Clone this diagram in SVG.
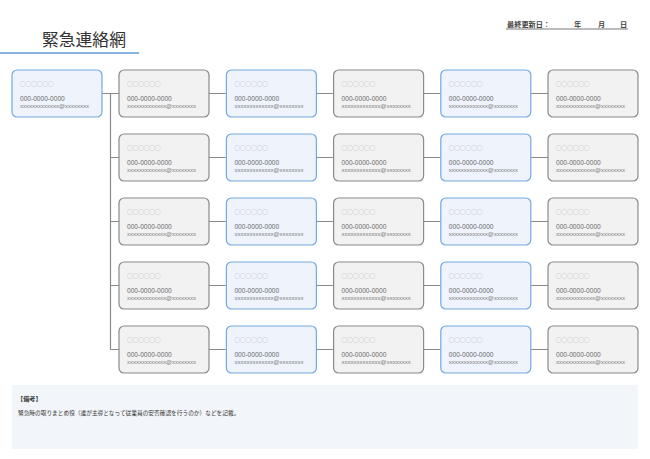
<svg xmlns="http://www.w3.org/2000/svg" width="650" height="459" viewBox="0 0 650 459">
<style>
.b{fill:#eef3fc;stroke:#74a9e0;stroke-width:1.2}
.g{fill:#f2f2f2;stroke:#8a8a8a;stroke-width:1.2}
.c{fill:none;stroke:#8a8a8a;stroke-width:1.2}
.nm{font-family:"Noto Sans CJK JP",sans-serif;font-size:5.6px;fill:#b4b4b4}
.tel{font-family:"Liberation Sans",Arial,sans-serif;font-size:6.6px;fill:#6a6a6a}
.ml{font-family:"Liberation Sans",Arial,sans-serif;font-size:6px;fill:#7a7a7a}
.jp{font-family:"Noto Sans CJK JP",sans-serif}
</style>
<defs>
<g id="txt">
<text class="nm" x="8" y="16">○○○○○○</text>
<text class="tel" x="8" y="30.5">000-0000-0000</text>
<text class="ml" x="8" y="37.5">xxxxxxxxxxxxx@xxxxxxxx</text>
</g>
</defs>
<rect width="650" height="459" fill="#ffffff"/>
<g id="title">
<text class="jp" x="42" y="46" font-size="16.8" fill="#333333">緊急連絡網</text>
<line x1="0" y1="53" x2="139" y2="53" stroke="#5b9bd5" stroke-width="1.5"/>
</g>
<g id="date" class="jp" font-size="7.2" fill="#444444" font-weight="bold">
<text x="507" y="27">最終更新日：</text>
<text x="574" y="27">年</text>
<text x="598" y="27">月</text>
<text x="620" y="27">日</text>
<line x1="506" y1="29" x2="628" y2="29" stroke="#555555" stroke-width="0.8"/>
</g>
<g id="connectors">
<path class="c" d="M102 93.5H119M110.5 93.5V349.5M110.5 157.5H119M110.5 221.5H119M110.5 285.5H119M110.5 349.5H119"/>
<path class="c" d="M209 93.5H226.4M316.4 93.5H333.6M423.6 93.5H440.8M530.8 93.5H548"/>
<path class="c" d="M209 157.5H226.4M316.4 157.5H333.6M423.6 157.5H440.8M530.8 157.5H548"/>
<path class="c" d="M209 221.5H226.4M316.4 221.5H333.6M423.6 221.5H440.8M530.8 221.5H548"/>
<path class="c" d="M209 285.5H226.4M316.4 285.5H333.6M423.6 285.5H440.8M530.8 285.5H548"/>
<path class="c" d="M209 349.5H226.4M316.4 349.5H333.6M423.6 349.5H440.8M530.8 349.5H548"/>
</g>
<g id="n0"><rect class="b" x="12" y="70" width="90" height="47" rx="5"/><use href="#txt" x="12" y="70"/></g>
<g id="r1c1"><rect class="g" x="119" y="70" width="90" height="47" rx="5"/><use href="#txt" x="119" y="70"/></g>
<g id="r1c2"><rect class="b" x="226.4" y="70" width="90" height="47" rx="5"/><use href="#txt" x="226.4" y="70"/></g>
<g id="r1c3"><rect class="g" x="333.6" y="70" width="90" height="47" rx="5"/><use href="#txt" x="333.6" y="70"/></g>
<g id="r1c4"><rect class="b" x="440.8" y="70" width="90" height="47" rx="5"/><use href="#txt" x="440.8" y="70"/></g>
<g id="r1c5"><rect class="g" x="548" y="70" width="90" height="47" rx="5"/><use href="#txt" x="548" y="70"/></g>
<g id="r2c1"><rect class="g" x="119" y="134" width="90" height="47" rx="5"/><use href="#txt" x="119" y="134"/></g>
<g id="r2c2"><rect class="b" x="226.4" y="134" width="90" height="47" rx="5"/><use href="#txt" x="226.4" y="134"/></g>
<g id="r2c3"><rect class="g" x="333.6" y="134" width="90" height="47" rx="5"/><use href="#txt" x="333.6" y="134"/></g>
<g id="r2c4"><rect class="b" x="440.8" y="134" width="90" height="47" rx="5"/><use href="#txt" x="440.8" y="134"/></g>
<g id="r2c5"><rect class="g" x="548" y="134" width="90" height="47" rx="5"/><use href="#txt" x="548" y="134"/></g>
<g id="r3c1"><rect class="g" x="119" y="198" width="90" height="47" rx="5"/><use href="#txt" x="119" y="198"/></g>
<g id="r3c2"><rect class="b" x="226.4" y="198" width="90" height="47" rx="5"/><use href="#txt" x="226.4" y="198"/></g>
<g id="r3c3"><rect class="g" x="333.6" y="198" width="90" height="47" rx="5"/><use href="#txt" x="333.6" y="198"/></g>
<g id="r3c4"><rect class="b" x="440.8" y="198" width="90" height="47" rx="5"/><use href="#txt" x="440.8" y="198"/></g>
<g id="r3c5"><rect class="g" x="548" y="198" width="90" height="47" rx="5"/><use href="#txt" x="548" y="198"/></g>
<g id="r4c1"><rect class="g" x="119" y="262" width="90" height="47" rx="5"/><use href="#txt" x="119" y="262"/></g>
<g id="r4c2"><rect class="b" x="226.4" y="262" width="90" height="47" rx="5"/><use href="#txt" x="226.4" y="262"/></g>
<g id="r4c3"><rect class="g" x="333.6" y="262" width="90" height="47" rx="5"/><use href="#txt" x="333.6" y="262"/></g>
<g id="r4c4"><rect class="b" x="440.8" y="262" width="90" height="47" rx="5"/><use href="#txt" x="440.8" y="262"/></g>
<g id="r4c5"><rect class="g" x="548" y="262" width="90" height="47" rx="5"/><use href="#txt" x="548" y="262"/></g>
<g id="r5c1"><rect class="g" x="119" y="326" width="90" height="47" rx="5"/><use href="#txt" x="119" y="326"/></g>
<g id="r5c2"><rect class="b" x="226.4" y="326" width="90" height="47" rx="5"/><use href="#txt" x="226.4" y="326"/></g>
<g id="r5c3"><rect class="g" x="333.6" y="326" width="90" height="47" rx="5"/><use href="#txt" x="333.6" y="326"/></g>
<g id="r5c4"><rect class="b" x="440.8" y="326" width="90" height="47" rx="5"/><use href="#txt" x="440.8" y="326"/></g>
<g id="r5c5"><rect class="g" x="548" y="326" width="90" height="47" rx="5"/><use href="#txt" x="548" y="326"/></g>
<g id="notes">
<rect x="12" y="385" width="626" height="64" fill="#f2f6fa"/>
<text class="jp" x="17" y="401" font-size="6.2" font-weight="bold" fill="#333333">【備考】</text>
<text class="jp" x="18" y="415" font-size="5.7" fill="#333333">緊急時の取りまとめ役（誰が主導となって従業員の安否確認を行うのか）などを記載。</text>
</g>
</svg>
